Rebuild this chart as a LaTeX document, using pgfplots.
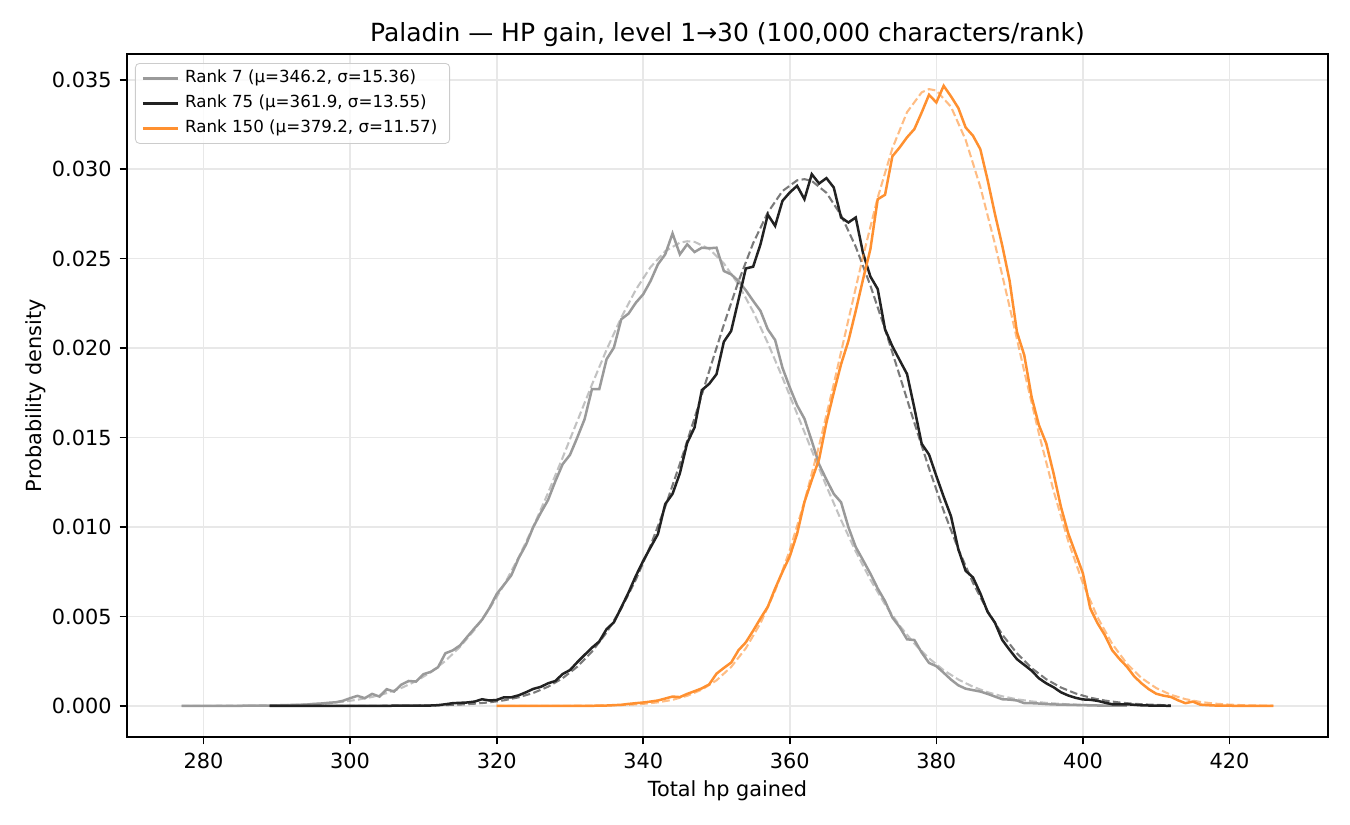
\documentclass[border=0pt]{standalone}
\usepackage{fontspec}
\setmainfont{DejaVu Sans}
\usepackage{pgfplots}
\pgfplotsset{compat=1.18}
\definecolor{cgray}{HTML}{9A9A9A}
\definecolor{cblack}{HTML}{222222}
\definecolor{corange}{HTML}{FF9030}
\definecolor{gridc}{HTML}{E8E8E8}
\definecolor{legc}{HTML}{CCCCCC}
\begin{document}
\begin{tikzpicture}
\useasboundingbox (-60.96pt,-42.24pt) rectangle (587.04pt,353.76pt);
\begin{axis}[
 at={(0pt,0pt)}, anchor=south west,
 scale only axis, width=576.48pt, height=327.84pt,
 xmin=269.55, xmax=433.45, ymin=-0.00174, ymax=0.03644,
 xtick={280,300,320,340,360,380,400,420},
 ytick={0,0.005,0.010,0.015,0.020,0.025,0.030,0.035},
 scaled y ticks=false,
 yticklabel style={/pgf/number format/fixed, /pgf/number format/fixed zerofill, /pgf/number format/precision=3, /pgf/number format/assume math mode=true, anchor=east, xshift=-3.7pt, inner sep=0pt},
 xticklabel style={/pgf/number format/assume math mode=true, anchor=base, yshift=-11.4pt, inner sep=0pt},
 tick align=outside, xtick pos=bottom, ytick pos=left,
 major tick length=3.5pt,
 every tick/.style={black, line width=0.8pt},
 axis line style={line width=0.8pt},
 grid=major, major grid style={gridc, line width=0.8pt},
 tick label style={font=\fontsize{10}{12}\selectfont},
 xlabel={Total hp gained}, ylabel={Probability density},
 label style={font=\fontsize{10}{12}\selectfont},
 xlabel style={at={(axis description cs:0.5,-0.0878)}, anchor=base, inner sep=0pt},
 ylabel style={at={(axis description cs:-0.0716,0.5)}, anchor=base, inner sep=0pt},
 every axis title shift=0pt,
 title={Paladin — HP gain, level 1→30 (100,000 characters/rank)},
 title style={at={(axis description cs:0.5,1)}, anchor=base, yshift=5.76pt, inner sep=0pt, font=\fontsize{12}{14.4}\selectfont},
 legend cell align=left,
 legend image code/.code={\draw[#1, line width=1.2pt] (0pt,0pt) -- (16.8pt,0pt);},
 legend style={at={(rel axis cs:0.00666,0.9868)}, anchor=north west, draw=legc, rounded corners=2pt, fill=white, fill opacity=0.8, text opacity=1, draw opacity=1, font=\fontsize{8}{9.6}\selectfont, inner xsep=3pt, inner ysep=1.2pt, nodes={inner xsep=2.9pt, inner ysep=2pt, text height=6pt, text depth=2pt}},
]
% Rank 7 solid
\addplot[cgray, line width=1.2pt] coordinates {
(277,0)(278,0)(279,0)(280,0)(281,0)(282,0)(283,0)(284,0.000005)(285,0.000005)(286,0.00001)(287,0.00001)(288,0.00002)(289,0.00002)(290,0.00003)(291,0.00004)(292,0.00005)(293,0.00006)(294,0.00007)(295,0.00011)(296,0.00013)(297,0.00017)(298,0.00020)(299,0.00028)(300,0.00043)(301,0.00056)(302,0.00043)(303,0.00067)(304,0.00052)(305,0.00093)(306,0.00080)(307,0.00119)(308,0.00139)(309,0.00136)(310,0.00177)(311,0.00190)(312,0.00216)(313,0.00294)(314,0.00310)(315,0.00338)(316,0.00387)(317,0.00435)(318,0.00481)(319,0.00546)(320,0.00625)(321,0.00677)(322,0.00730)(323,0.00826)(324,0.00901)(325,0.01000)(326,0.01078)(327,0.01150)(328,0.01255)(329,0.01351)(330,0.01403)(331,0.01500)(332,0.01603)(333,0.01770)(334,0.01770)(335,0.01938)(336,0.02003)(337,0.02161)(338,0.02193)(339,0.02254)(340,0.02301)(341,0.02375)(342,0.02468)(343,0.02524)(344,0.02641)(345,0.02524)(346,0.02580)(347,0.02537)(348,0.02561)(349,0.02558)(350,0.02561)(351,0.02431)(352,0.02412)(353,0.02375)(354,0.02323)(355,0.02264)(356,0.02208)(357,0.02105)(358,0.02045)(359,0.01890)(360,0.01780)(361,0.01680)(362,0.01605)(363,0.01481)(364,0.01350)(365,0.01265)(366,0.01185)(367,0.01138)(368,0.00999)(369,0.00888)(370,0.00814)(371,0.00739)(372,0.00656)(373,0.00585)(374,0.00494)(375,0.00440)(376,0.00372)(377,0.00368)(378,0.00298)(379,0.00240)(380,0.00222)(381,0.00185)(382,0.00147)(383,0.00115)(384,0.00096)(385,0.00088)(386,0.00080)(387,0.00067)(388,0.00052)(389,0.00037)(390,0.00035)(391,0.00030)(392,0.00015)(393,0.00015)(394,0.00013)(395,0.00010)(396,0.00008)(397,0.00007)(398,0.00006)(399,0.00005)(400,0.00004)(401,0.00003)(402,0.00002)(403,0.00002)(404,0.00001)(405,0.00001)(406,0.00001)
};
\addlegendentry{Rank 7 (μ=346.2, σ=15.36)}
\addplot[cgray, draw opacity=0.6, line width=1pt, dash pattern=on 3.7pt off 1.6pt, forget plot] coordinates {
(277,0.000001)(281,0.0000032)(285,0.0000093)(289,0.000025)(291,0.000041)(293,0.000065)(295,0.0001)(297,0.000154)(299,0.000231)(301,0.000342)(303,0.000497)(305,0.000712)(307,0.001001)(309,0.001383)(311,0.00188)(313,0.002512)(315,0.0033)(317,0.004264)(319,0.005415)(321,0.006762)(323,0.008302)(325,0.010021)(327,0.011893)(329,0.013876)(331,0.015919)(333,0.017955)(335,0.019911)(337,0.021708)(339,0.023271)(341,0.024526)(343,0.025415)(345,0.025894)(346,0.025972)(347,0.025938)(349,0.025545)(351,0.024735)(353,0.023548)(355,0.022042)(357,0.020285)(359,0.018354)(361,0.016328)(363,0.014281)(365,0.01228)(367,0.010383)(369,0.008632)(371,0.007055)(373,0.005669)(375,0.004478)(377,0.003479)(379,0.002657)(381,0.001994)(383,0.001473)(385,0.001069)(387,0.000763)(389,0.000535)(391,0.000369)(393,0.00025)(395,0.000167)(397,0.000109)(399,0.0000706)(401,0.0000447)(403,0.0000279)(405,0.0000171)(406,0.0000133)
};
% Rank 75 solid
\addplot[cblack, line width=1.2pt] coordinates {
(289,0)(290,0)(291,0)(292,0)(293,0)(294,0)(295,0)(296,0)(297,0)(298,0)(299,0.000005)(300,0.000005)(301,0.000005)(302,0.000005)(303,0.000005)(304,0.000005)(305,0)(306,0.00001)(307,0.00001)(308,0.00001)(309,0.00001)(310,0.00002)(311,0.00002)(312,0.00004)(313,0.00009)(314,0.00015)(315,0.00017)(316,0.00019)(317,0.00024)(318,0.00037)(319,0.00030)(320,0.00033)(321,0.00048)(322,0.00048)(323,0.00059)(324,0.00076)(325,0.00095)(326,0.00106)(327,0.00126)(328,0.00139)(329,0.00178)(330,0.00200)(331,0.00244)(332,0.00285)(333,0.00325)(334,0.00360)(335,0.00429)(336,0.00467)(337,0.00550)(338,0.00634)(339,0.00727)(340,0.00811)(341,0.00886)(342,0.00960)(343,0.01128)(344,0.01185)(345,0.01300)(346,0.01470)(347,0.01556)(348,0.01765)(349,0.01800)(350,0.01854)(351,0.02035)(352,0.02096)(353,0.02270)(354,0.02445)(355,0.02455)(356,0.02580)(357,0.02746)(358,0.02683)(359,0.02823)(360,0.02870)(361,0.02907)(362,0.02832)(363,0.02972)(364,0.02920)(365,0.02950)(366,0.02898)(367,0.02730)(368,0.02702)(369,0.02730)(370,0.02530)(371,0.02400)(372,0.02330)(373,0.02105)(374,0.02010)(375,0.01932)(376,0.01855)(377,0.01665)(378,0.01465)(379,0.01405)(380,0.01285)(381,0.01169)(382,0.01060)(383,0.00875)(384,0.00755)(385,0.00718)(386,0.00629)(387,0.00525)(388,0.00465)(389,0.00368)(390,0.00313)(391,0.00261)(392,0.00229)(393,0.00197)(394,0.00154)(395,0.00126)(396,0.00104)(397,0.00076)(398,0.00058)(399,0.00045)(400,0.00036)(401,0.00034)(402,0.00028)(403,0.00018)(404,0.00009)(405,0.00009)(406,0.00009)(407,0.00006)(408,0.00003)(409,0.00002)(410,0.00001)(411,0.00001)(412,0)
};
\addlegendentry{Rank 75 (μ=361.9, σ=13.55)}
\addplot[cblack, draw opacity=0.6, line width=1pt, dash pattern=on 3.7pt off 1.6pt, forget plot] coordinates {
(289,0)(299,0.0000006)(303,0.0000023)(307,0.000008)(311,0.0000254)(313,0.0000437)(315,0.0000737)(317,0.0001215)(319,0.000196)(321,0.0003093)(323,0.0004778)(325,0.000722)(327,0.0010674)(329,0.0015449)(331,0.0021866)(333,0.0030276)(335,0.0041033)(337,0.0054406)(339,0.007059)(341,0.008961)(343,0.01113)(345,0.013526)(347,0.016084)(349,0.018714)(351,0.021304)(353,0.023729)(355,0.025862)(357,0.027579)(359,0.028776)(361,0.029377)(362,0.029442)(363,0.029345)(365,0.028682)(367,0.027429)(369,0.025665)(371,0.023498)(373,0.02105)(375,0.018451)(377,0.015823)(379,0.013277)(381,0.010902)(383,0.008758)(385,0.006884)(387,0.005295)(389,0.003985)(391,0.002933)(393,0.002113)(395,0.00149)(397,0.001028)(399,0.000694)(401,0.000458)(403,0.000296)(405,0.000187)(407,0.000116)(409,0.00007)(411,0.0000415)(412,0.0000316)
};
% Rank 150 solid
\addplot[corange, line width=1.2pt] coordinates {
(320,0)(321,0)(322,0)(323,0)(324,0)(325,0)(326,0)(327,0)(328,0)(329,0)(330,0)(331,0)(332,0)(333,0)(334,0.00002)(335,0.00002)(336,0.00004)(337,0.00006)(338,0.00011)(339,0.00015)(340,0.00019)(341,0.00024)(342,0.00030)(343,0.00041)(344,0.00052)(345,0.00049)(346,0.00067)(347,0.00082)(348,0.00098)(349,0.00120)(350,0.00180)(351,0.00212)(352,0.00242)(353,0.00311)(354,0.00355)(355,0.00420)(356,0.00489)(357,0.00554)(358,0.00656)(359,0.00749)(360,0.00836)(361,0.00962)(362,0.01139)(363,0.01262)(364,0.01379)(365,0.01583)(366,0.01751)(367,0.01910)(368,0.02040)(369,0.02208)(370,0.02385)(371,0.02553)(372,0.02832)(373,0.02857)(374,0.03072)(375,0.03122)(376,0.03178)(377,0.03224)(378,0.03317)(379,0.03416)(380,0.03373)(381,0.03466)(382,0.03407)(383,0.03342)(384,0.03233)(385,0.03187)(386,0.03112)(387,0.02939)(388,0.02749)(389,0.02572)(390,0.02376)(391,0.02090)(392,0.01960)(393,0.01727)(394,0.01569)(395,0.01467)(396,0.01299)(397,0.01113)(398,0.00964)(399,0.00852)(400,0.00741)(401,0.00545)(402,0.00462)(403,0.00395)(404,0.00311)(405,0.00262)(406,0.00219)(407,0.00165)(408,0.00126)(409,0.00093)(410,0.00068)(411,0.00057)(412,0.00050)(413,0.00031)(414,0.00015)(415,0.00024)(416,0.00007)(417,0.00004)(418,0.00002)(419,0.00001)(420,0.00001)(421,0)(422,0)(423,0)(424,0)(425,0)(426,0)
};
\addlegendentry{Rank 150 (μ=379.2, σ=11.57)}
\addplot[corange, draw opacity=0.6, line width=1pt, dash pattern=on 3.7pt off 1.6pt, forget plot] coordinates {
(320,0)(330,0.0000041)(334,0.0000167)(336,0.0000324)(338,0.0000608)(340,0.0001108)(342,0.0001962)(344,0.000337)(346,0.0005619)(348,0.000909)(350,0.0014271)(352,0.0021752)(354,0.0032181)(356,0.0046194)(358,0.0064352)(360,0.008703)(362,0.011423)(364,0.01455)(366,0.017988)(368,0.021582)(370,0.025135)(372,0.028411)(374,0.031168)(376,0.033187)(378,0.034296)(379,0.034476)(380,0.034399)(382,0.033486)(384,0.031638)(386,0.029012)(388,0.02582)(390,0.022303)(392,0.018698)(394,0.015214)(396,0.012015)(398,0.00921)(400,0.006851)(402,0.004947)(404,0.003467)(406,0.002357)(408,0.001556)(410,0.000997)(412,0.00062)(414,0.000374)(416,0.000219)(418,0.000125)(420,0.0000688)(422,0.0000368)(424,0.0000191)(426,0.0000097)
};
\end{axis}
\end{tikzpicture}
\end{document}
